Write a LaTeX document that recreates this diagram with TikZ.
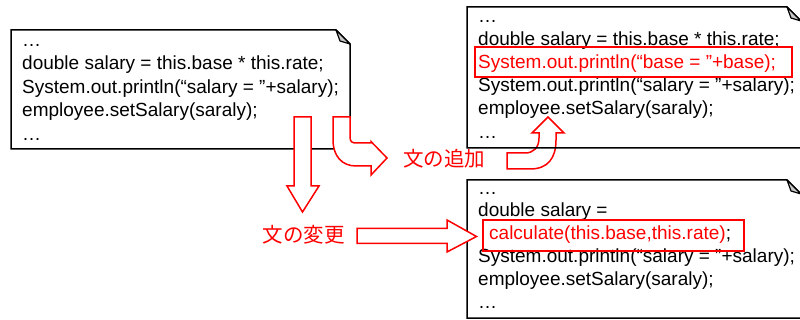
\documentclass[tikz,border=0pt]{standalone}
\usepackage{fontspec}
\setmainfont{Liberation Sans}
\newfontfamily\cjk{Noto Sans CJK JP}
\definecolor{fold}{RGB}{200,200,200}
\definecolor{hl}{RGB}{255,0,0}
\tikzset{
  notebox/.style={draw=black,line width=1.5pt,line join=miter,fill=white},
  foldtri/.style={draw=black,line width=1.2pt,fill=fold,line join=round},
  code/.style={anchor=base west,inner sep=0pt,font=\fontsize{19}{23}\selectfont},
  redcode/.style={code,text=hl},
  hlbox/.style={draw=hl,line width=1.8pt},
  blockarrow/.style={draw=hl,line width=1.5pt,fill=white,line join=miter},
  jlabel/.style={inner sep=0pt,text=hl,font=\cjk\fontsize{20.5}{22}\selectfont}
}
\begin{document}
\begin{tikzpicture}[x=1pt,y=-1pt]
\useasboundingbox (0,0) rectangle (800,320);
\clip (0,0) rectangle (800,320);
% box 1
\draw[notebox] (11,30) -- (336,30) -- (350,44) -- (350,149) -- (11,149) -- cycle;
\draw[foldtri] (336,30) -- (340,41) -- (350,44) -- cycle;
\node[code] (a1) at (22,46.5) {…};
\node[code] (a2) at (22,70) {double salary = this.base * this.rate;};
\node[code] (a3) at (22,93.5) {System.out.println(“salary = ”+salary);};
\node[code] (a4) at (22,117) {employee.setSalary(saraly);};
\node[code] (a5) at (22,140.5) {…};
% box 2
\draw[blockarrow,fill=none] (507,153) -- (525,153) .. controls (533,153) and (539,148) .. (539,138) -- (539,133) -- (532,133) -- (548,117) -- (564,133) -- (556,133) -- (556,140) .. controls (556,158) and (548,169) .. (530,169) -- (507,169) -- cycle;
\draw[notebox,fill=none] (467,7) -- (787,7) -- (801,21) -- (801,148) -- (467,148) -- cycle;
\draw[foldtri] (787,7) -- (791,18) -- (801,21) -- cycle;
\node[code] (b1) at (478,22.5) {…};
\node[code] (b2) at (478,45.5) {double salary = this.base * this.rate;};
\node[redcode] (b3) at (478,68.5) {System.out.println(“base = ”+base);};
\node[code] (b4) at (478,92) {System.out.println(“salary = ”+salary);};
\node[code] (b5) at (478,115) {employee.setSalary(saraly);};
\node[code] (b6) at (478,138.5) {…};
\draw[hlbox] (475,47) rectangle (792,77);
% box 3
\draw[notebox] (467,180) -- (787,180) -- (801,194) -- (801,318) -- (467,318) -- cycle;
\draw[foldtri] (787,180) -- (791,191) -- (801,194) -- cycle;
\node[code] (c1) at (478,195) {…};
\node[code] (c2) at (478,216.5) {double salary =};
\node[code] (c3) at (489,239.5) {\textcolor{hl}{calculate(this.base,this.rate)};};
\node[code] (c4) at (478,262.5) {System.out.println(“salary = ”+salary);};
\node[code] (c5) at (478,285.5) {employee.setSalary(saraly);};
\node[code] (c6) at (478,308.5) {…};
\draw[hlbox] (483,220) rectangle (744,251);
% arrows
\draw[blockarrow] (294,117) -- (311,117) -- (311,186) -- (319,186) -- (302.5,212) -- (287,186) -- (294,186) -- cycle;
\draw[blockarrow] (357,228.3) -- (447,228.3) -- (447,220) -- (476.5,236.5) -- (447,252) -- (447,243.3) -- (357,243.3) -- cycle;
\draw[blockarrow] (333,117) -- (350,117) -- (350,137) .. controls (350,142) and (352,143) .. (357,143) -- (371,143) -- (371,141.5) -- (387,158) -- (371,175) -- (371,166) -- (356,166) .. controls (342,166) and (333,156) .. (333,140) -- cycle;
% labels
\node[jlabel] (chg) at (303.5,234.5) {文の変更};
\node[jlabel] (add) at (444,159) {文の追加};
\end{tikzpicture}
\end{document}
